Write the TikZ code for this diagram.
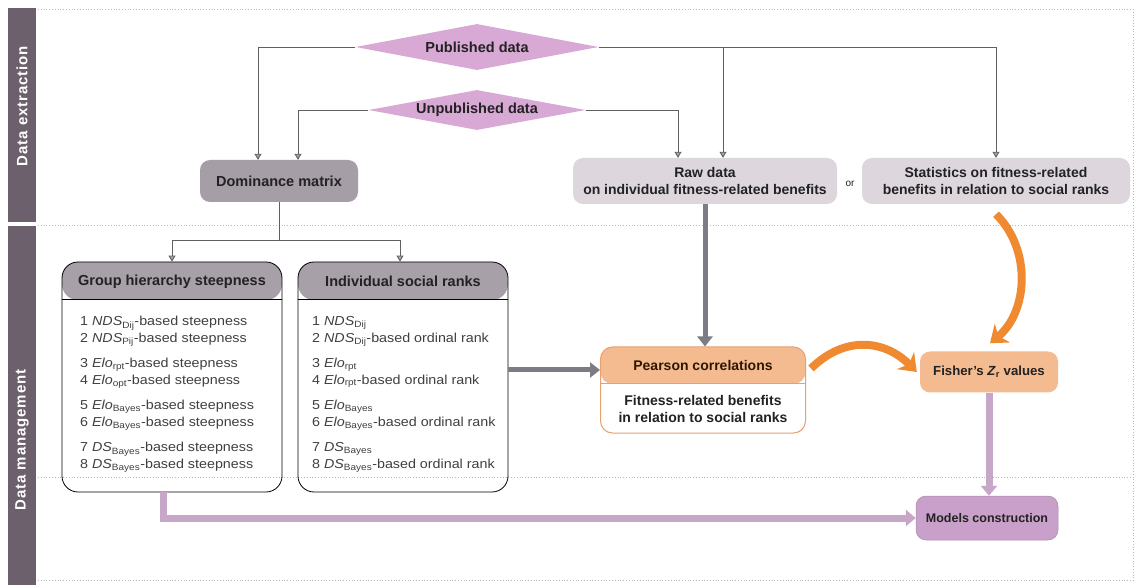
\documentclass[tikz,border=0pt]{standalone}
\usepackage{fontspec}
\setmainfont{Liberation Sans}
\usetikzlibrary{arrows.meta,shapes.geometric,calc}
\definecolor{sidec}{HTML}{6C606C}
\definecolor{diac}{HTML}{D9A9D5}
\definecolor{domc}{HTML}{A69EA6}
\definecolor{rawc}{HTML}{DDD7DD}
\definecolor{hdrc}{HTML}{A8A0A8}
\definecolor{orh}{HTML}{F5BB90}
\definecolor{orb}{HTML}{E9A070}
\definecolor{ora}{HTML}{F08A30}
\definecolor{purl}{HTML}{C7A7C7}
\definecolor{purb}{HTML}{C9A0C9}
\definecolor{txt}{HTML}{222222}
\definecolor{thg}{HTML}{7C7C84}
\tikzset{
  dotln/.style={dotted, gray!55, line width=0.8pt},
  dia/.style={diamond, aspect=5, inner sep=0pt, fill=diac, font=\bfseries\fontsize{14.5}{16}\selectfont, text=txt},
  boxg/.style={rectangle, rounded corners=10pt, inner sep=2pt, align=center, font=\bfseries\fontsize{12}{15}\selectfont, text=txt},
  garrow/.style={draw=gray!75!black, line width=0.9pt, -{Triangle[width=7pt,length=6pt,fill=gray!70]}},
  thickg/.style={draw=thg, line width=5pt, -{Triangle[width=15pt,length=10pt]}},
  orarrow/.style={draw=ora, line width=8pt, -{Stealth[length=16pt,width=24pt,inset=5pt]}},
  purarrow/.style={draw=purl, line width=7pt, -{Triangle[width=16pt,length=10pt]}},
  listbox/.style={rectangle, draw=black, line width=0.8pt, rounded corners=16pt, minimum height=230pt,
     path picture={\fill[hdrc] (path picture bounding box.north west) rectangle ([yshift=-38pt]path picture bounding box.north east);}},
  hdrtext/.style={font=\bfseries\fontsize{14.5}{16}\selectfont, text=txt},
  listtext/.style={anchor=north west, align=left, inner sep=0pt, text=gray!50!black, font=\fontsize{13}{16.8}\selectfont\addfontfeatures{FakeStretch=1.1}},
  sidetext/.style={rotate=90, text=white, font=\bfseries\fontsize{15}{18}\selectfont\addfontfeatures{LetterSpace=6}}
}
\newcommand{\sub}[1]{\textsubscript{#1}}
\begin{document}
\begin{tikzpicture}[x=1pt,y=-1pt]
\useasboundingbox[fill=white] (0,0) rectangle (1136,585);
% side bars
\fill[sidec] (8,8) rectangle (36,222);
\fill[sidec] (8,226) rectangle (36,585);
\node[sidetext] (lab1) at (22,106) {Data extraction};
\node[sidetext] (lab2) at (22,440) {Data management};
% dotted frame lines
\draw[dotln] (38,9) -- (1136,9);
\draw[dotln] (38,225) -- (1136,225);
\draw[dotln] (38,477) -- (1136,477);
\draw[dotln] (38,580) -- (1136,580);
\draw[dotln] (1133,9) -- (1133,580);
% diamonds
\node[dia, minimum width=243pt, minimum height=46pt] (pub) at (477,47) {Published data};
\node[dia, minimum width=217pt, minimum height=40pt] (unp) at (477,110) {Unpublished data};
% top boxes
\node[boxg, fill=domc, minimum width=158pt, minimum height=42pt, font=\bfseries\fontsize{14.5}{16}\selectfont] (dom) at (279,181) {Dominance matrix};
\node[boxg, fill=rawc, minimum width=264pt, minimum height=46pt, font=\bfseries\fontsize{14}{17}\selectfont] (raw) at (705,181) {Raw data\\on individual fitness-related benefits};
\node[text=txt, font=\fontsize{10}{12}\selectfont] (or) at (850,184) {or};
\node[boxg, fill=rawc, minimum width=268pt, minimum height=46pt, font=\bfseries\fontsize{14}{17}\selectfont] (stats) at (996,181) {Statistics on fitness-related\\benefits in relation to social ranks};
% thin connectors
\draw[garrow] (pub.west) -| ([xshift=-21pt]dom.north);
\draw[garrow] (unp.west) -| ([xshift=19pt]dom.north);
\draw[garrow] (pub.east) -| (stats.north);
\draw[garrow] ([xshift=18pt]raw.north |- pub.east) -- ([xshift=18pt]raw.north);
\draw[garrow] (unp.east) -| ([xshift=-27pt]raw.north);
% list boxes
\node[listbox, minimum width=220pt] (grp) at (172,377) {};
\node[listbox, minimum width=210pt] (ind) at (403,377) {};
\draw[line width=0.8pt] ([yshift=-38pt]grp.north west) -- ([yshift=-38pt]grp.north east);
\draw[line width=0.8pt] ([yshift=-38pt]ind.north west) -- ([yshift=-38pt]ind.north east);
\node[hdrtext] (grph) at ([yshift=-20pt]grp.north) {Group hierarchy steepness};
\node[hdrtext] (indh) at ([yshift=-20pt]ind.north) {Individual social ranks};
\coordinate (split) at (279,240);
\draw[garrow] (dom.south) -- (split) -| (grp.north);
\draw[garrow] (split) -| ([xshift=-3pt]ind.north);
\node[listtext] (grpl) at (80,316) {1 \textit{NDS}\sub{Dij}-based steepness\\
2 \textit{NDS}\sub{Pij}-based steepness\\[8.5pt]
3 \textit{Elo}\sub{rpt}-based steepness\\
4 \textit{Elo}\sub{opt}-based steepness\\[8.5pt]
5 \textit{Elo}\sub{Bayes}-based steepness\\
6 \textit{Elo}\sub{Bayes}-based steepness\\[8.5pt]
7 \textit{DS}\sub{Bayes}-based steepness\\
8 \textit{DS}\sub{Bayes}-based steepness};
\node[listtext] (indl) at (312,316) {1 \textit{NDS}\sub{Dij}\\
2 \textit{NDS}\sub{Dij}-based ordinal rank\\[8.5pt]
3 \textit{Elo}\sub{rpt}\\
4 \textit{Elo}\sub{rpt}-based ordinal rank\\[8.5pt]
5 \textit{Elo}\sub{Bayes}\\
6 \textit{Elo}\sub{Bayes}-based ordinal rank\\[8.5pt]
7 \textit{DS}\sub{Bayes}\\
8 \textit{DS}\sub{Bayes}-based ordinal rank};
% Pearson
\node[rectangle, rounded corners=12pt, draw=orb, line width=1pt, fill=white, minimum width=205pt, minimum height=86pt,
  path picture={\fill[orh] (path picture bounding box.north west) rectangle ([yshift=-37pt]path picture bounding box.north east);}] (pear) at (703,390) {};
\draw[orb, line width=1pt] ([yshift=-37pt]pear.north west) -- ([yshift=-37pt]pear.north east);
\node[hdrtext, text=black!70!orange!60!black, font=\bfseries\fontsize{14}{16}\selectfont] (pearh) at ([yshift=-19pt]pear.north) {Pearson correlations};
\node[boxg, font=\bfseries\fontsize{14}{17}\selectfont] (pearb) at ([yshift=-62pt]pear.north) {Fitness-related benefits\\in relation to social ranks};
% Fisher, Models
\node[boxg, fill=orh, minimum width=138pt, minimum height=41pt, font=\bfseries\fontsize{13.2}{15}\selectfont] (fish) at (989,372) {Fisher's \textit{Z}\sub{r} values};
\node[boxg, fill=purb, draw=purb!85!black, line width=0.5pt, minimum width=142pt, minimum height=44pt, font=\bfseries\fontsize{12.5}{15}\selectfont] (mod) at (987,518) {Models construction};
% thick connectors
\draw[thickg] (raw.south) -- (raw.south |- pear.north);
\draw[thickg] ([yshift=7pt]ind.east) -- ([yshift=7pt]ind.east -| pear.west);
\draw[orarrow] ([xshift=5pt,yshift=-22pt]pear.north east) .. controls (845,335) and (885,340) .. ([xshift=-3pt]fish.west);
\draw[orarrow] ([yshift=-10pt]stats.south) .. controls (1032,250) and (1028,312) .. ([xshift=1pt,yshift=8pt]fish.north);
\draw[purarrow] (fish.south) -- (fish.south |- mod.north);
\draw[purarrow] ([xshift=-9pt]grp.south) |- (mod.west);
\end{tikzpicture}
\end{document}
